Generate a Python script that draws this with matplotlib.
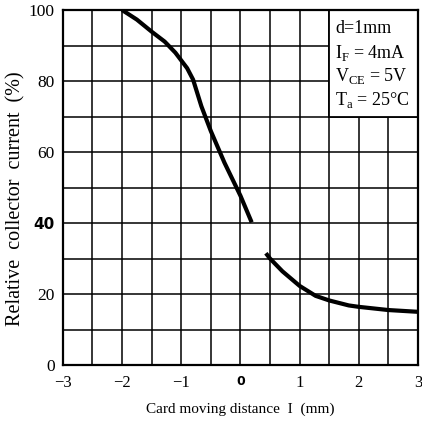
import matplotlib
matplotlib.use('Agg')
import matplotlib.pyplot as plt
from matplotlib.patches import Rectangle
import numpy as np

# curve: card moving distance (mm) vs relative collector current (%)
left_x = [-2.0, -1.75, -1.5, -1.28, -1.1, -1.0, -0.9, -0.8, -0.66, -0.5, -0.27, 0.0, 0.19]
left_y = [100.0, 97.3, 93.9, 91.1, 88.0, 85.8, 83.6, 80.4, 72.9, 65.9, 57.0, 47.7, 40.2]
right_x = [0.43, 0.5, 0.71, 1.0, 1.27, 1.5, 1.83, 2.0, 2.5, 3.0]
right_y = [31.5, 30.0, 26.4, 22.3, 19.5, 18.2, 16.8, 16.4, 15.5, 15.0]

x_ticks = [-3, -2, -1, 0, 1, 2, 3]
x_labels = ['\u22123', '\u22122', '\u22121', '0', '1', '2', '3']
y_ticks = [0, 20, 40, 60, 80, 100]
y_labels = ['0', '20', '40', '60', '80', '100']
cond_lines = ['d=1mm', 'I$_{\\rm F}$ = 4mA', 'V$_{\\rm CE}$ = 5V', 'T$_{\\rm a}$ = 25\u00b0C']

plt.rcParams['font.family'] = ['Liberation Serif', 'DejaVu Serif']
plt.rcParams['mathtext.fontset'] = 'custom'
plt.rcParams['mathtext.rm'] = 'Liberation Serif'

fig = plt.figure(figsize=(4.22, 4.26), dpi=100)
ax = fig.add_axes([0.149, 0.143, 0.8415, 0.8335])

ax.set_xlim(-3, 3)
ax.set_ylim(0, 100)

ax.set_xticks(np.arange(-3, 3.01, 0.5), minor=True)
ax.set_yticks(np.arange(0, 101, 10), minor=True)
ax.set_xticks(x_ticks)
ax.set_yticks(y_ticks)
ax.set_xticklabels(x_labels, fontsize=12)
ax.set_yticklabels(y_labels, fontsize=12.5)
ax.tick_params(which='both', length=0)
ax.tick_params(axis='x', pad=7)
ax.tick_params(axis='y', pad=6)

# scanned-looking bold labels
for lab in ax.get_xticklabels():
    if lab.get_text() == '0':
        lab.set_family('DejaVu Sans')
        lab.set_fontweight('bold')
        lab.set_fontsize(9)
for lab in ax.get_yticklabels():
    if lab.get_text() == '40':
        lab.set_family('DejaVu Sans')
        lab.set_fontweight('bold')
        lab.set_fontsize(11)

ax.set_axisbelow(True)
ax.grid(which='both', color='black', linewidth=1.1)

for s in ax.spines.values():
    s.set_linewidth(1.6)

# conditions box over the grid
ax.add_patch(Rectangle((1.5, 70), 1.5, 30, facecolor='white', edgecolor='black',
                       linewidth=1.3, zorder=1))
for i, t in enumerate(cond_lines):
    ax.text(1.6, 97.3 - i * 6.6, t, fontsize=13, va='top', ha='left', zorder=4)

ax.plot(left_x, left_y, color='black', linewidth=3, solid_capstyle='butt', zorder=3)
ax.plot(right_x, right_y, color='black', linewidth=3, solid_capstyle='butt', zorder=3)

ax.set_xlabel('Card moving distance  I  (mm)', fontsize=11)
ax.xaxis.set_label_coords(0.5, -0.105)
ax.set_ylabel('Relative  collector  current  (%)', fontsize=14.5)
ax.yaxis.set_label_coords(-0.105, 0.47)

fig.savefig('out.png', dpi=100)
